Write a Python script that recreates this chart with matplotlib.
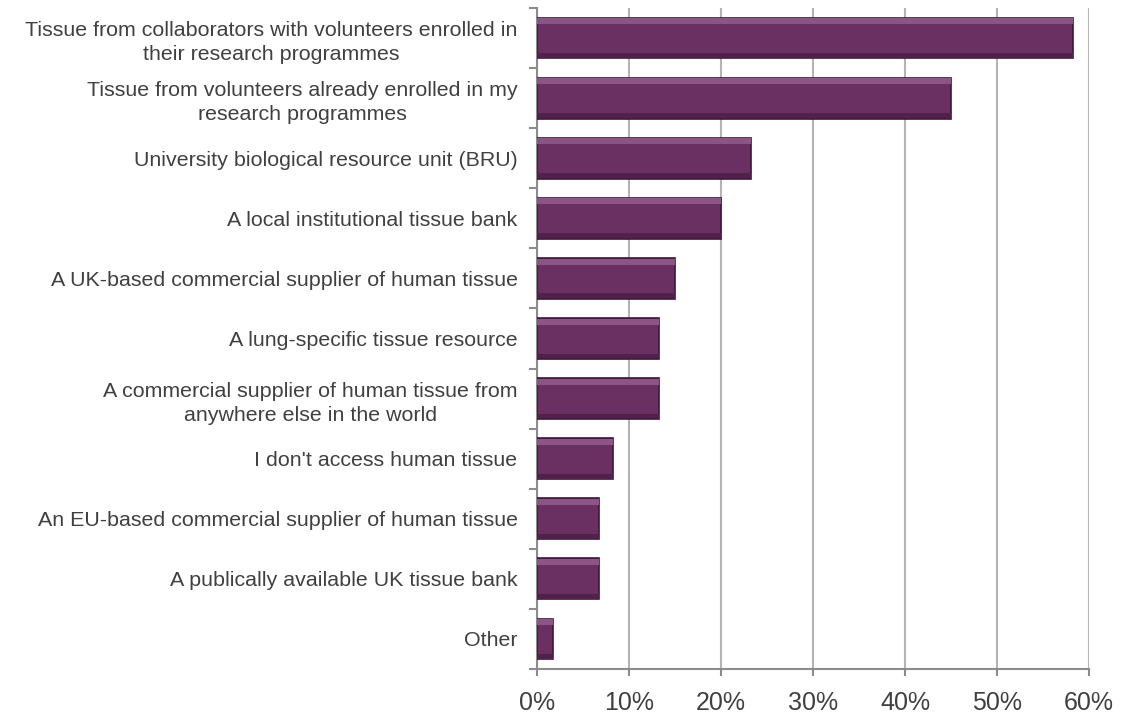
import numpy as np
import matplotlib.pyplot as plt
from matplotlib.ticker import FuncFormatter

# Sources of human tissue (share of respondents)
categories = [
    "Tissue from collaborators with volunteers enrolled in\ntheir research programmes",
    "Tissue from volunteers already enrolled in my\nresearch programmes",
    "University biological resource unit (BRU)",
    "A local institutional tissue bank",
    "A UK-based commercial supplier of human tissue",
    "A lung-specific tissue resource",
    "A commercial supplier of human tissue from\nanywhere else in the world",
    "I don't access human tissue",
    "An EU-based commercial supplier of human tissue",
    "A publically available UK tissue bank",
    "Other",
]
values = [58.3, 45.0, 23.3, 20.0, 15.0, 13.3, 13.3, 8.3, 6.7, 6.7, 1.7]
x_ticks = [0, 10, 20, 30, 40, 50, 60]

plt.rcParams['font.family'] = ['Liberation Sans', 'DejaVu Sans']

fig = plt.figure(figsize=(11.25, 7.16), dpi=100)
ax = fig.add_axes([537 / 1125, 1 - 669 / 716, (1089 - 537) / 1125, (669 - 8) / 716])

y = np.arange(len(categories))
h = 0.68
ax.barh(y, values, height=h, color='#6a3062', edgecolor='#3d1638', linewidth=1.2, zorder=3)
# bevel highlights
ax.barh(y - h / 2 + 0.06, values, height=0.10, color='#8d5585', linewidth=0, zorder=4)
ax.barh(y + h / 2 - 0.05, values, height=0.08, color='#50214a', linewidth=0, zorder=4)

ax.set_xlim(0, 60)
ax.set_ylim(len(categories) - 0.5, -0.5)
ax.set_xticks(x_ticks)
ax.xaxis.set_major_formatter(FuncFormatter(lambda v, p: f"{v:.0f}%"))
ax.tick_params(axis='x', labelsize=18, colors='#8c8c8c', labelcolor='#404040',
               length=5, width=1.5, pad=11)

# category boundary ticks, labels at centres
ax.set_yticks(np.arange(-0.5, len(categories), 1.0))
ax.set_yticklabels([])
ax.tick_params(axis='y', which='major', length=6, width=1.5, colors='#8c8c8c')
ax.set_yticks(y, minor=True)
ax.set_yticklabels(categories, minor=True, ha='right', multialignment='center',
                   fontsize=15.4, color='#404040', linespacing=1.35)
ax.tick_params(axis='y', which='minor', length=0, pad=14)

ax.grid(axis='x', color='#b4b4b4', linewidth=1.5, zorder=0)
ax.set_axisbelow(True)
for s in ['top', 'right']:
    ax.spines[s].set_visible(False)
for s in ['left', 'bottom']:
    ax.spines[s].set_color('#8c8c8c')
    ax.spines[s].set_linewidth(1.5)

fig.savefig('out.png', dpi=100)
